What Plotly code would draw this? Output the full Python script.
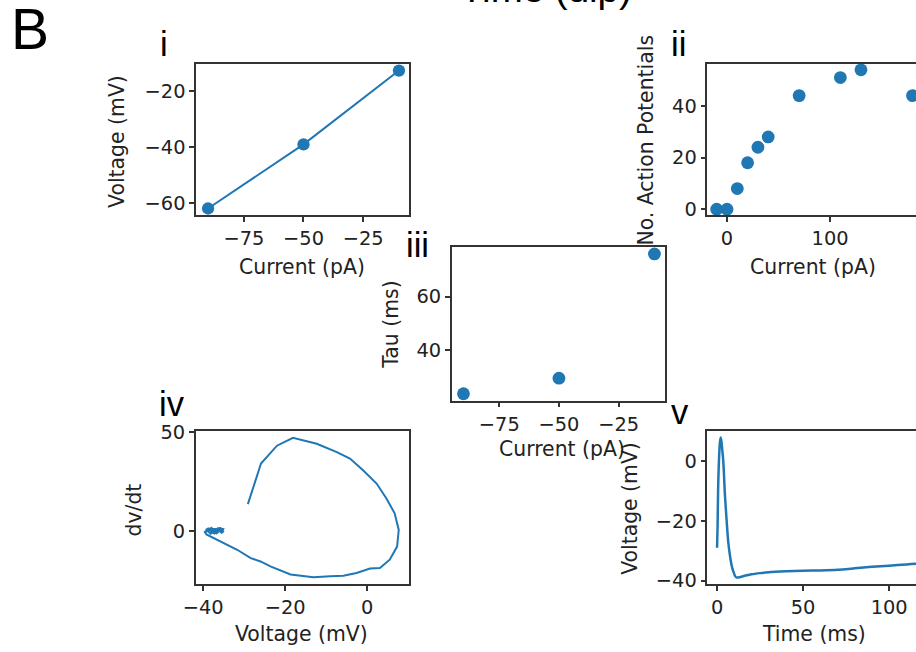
import plotly.graph_objects as go

# Layout helpers: the page keeps the browser's default 8px body margin and the
# captured picture is slightly scaled, so target pixel positions are converted.
W, H = 916, 652
OFF = 8
SX, SY = 0.991, 0.977
BLUE = "#1f77b4"
FONT = "DejaVu Sans"
LBLFONT = "Liberation Sans"
TICKSZ = 19.4
TITLESZ = 20.4

# Panel i: I-V relationship
iv_current = [-90, -50, -10]
iv_voltage = [-62, -39, -12.5]

# Panel ii: number of action potentials vs current
ap_current = [-10, 0, 10, 20, 30, 40, 70, 110, 130, 180]
ap_count = [0, 0, 8, 18, 24, 28, 44, 51, 54, 44]

# Panel iii: tau vs current
tau_current = [-90, -50, -10]
tau_ms = [23.8, 29.6, 75.9]

# Panel iv: phase plot (V, dV/dt)
phase_v = [-29.1, -25.9, -22.0, -18.1, -12.3, -7.4, -4.2, -1.0, 2.3, 4.7, 6.7, 7.7, 7.3, 5.5,
           3.1, 0.7, -2.6, -5.8, -9.0, -13.1, -18.7, -23.6, -26.0, -28.4, -31.7, -34.9, -38.1,
           -39.2, -39.6, -38.6, -37.5, -36.4, -35.6, -35.1, -36.0, -37.2, -38.5, -39.4, -38.0,
           -36.8, -35.5, -35.0, -36.2, -37.8, -39.0, -37.4, -35.8, -35.2, -36.6, -38.2, -39.3,
           -36.9, -35.3]
phase_dvdt = [13.5, 34.0, 43.0, 47.0, 44.0, 39.8, 36.5, 30.6, 23.9, 16.4, 8.9, 0.5, -7.9, -14.5,
              -18.7, -19.0, -21.2, -22.6, -22.9, -23.4, -22.0, -17.9, -15.4, -13.7, -9.5, -6.2, -2.9,
              -1.8, -0.5, 1.2, -1.0, 1.3, -0.8, 0.9, 1.4, -1.2, 1.0, -0.7, 1.5, -1.3, 0.8, -0.6, 1.1,
              0.2, 1.3, -1.1, 1.2, -0.9, 0.7, -1.4, 0.9, 1.0, -0.3]

# Panel v: voltage trace
trace_t = [0, 0.3, 0.6, 0.9, 1.2, 1.6, 2.1, 2.6, 3.0, 3.5, 4.0, 4.4, 5.0, 5.7, 6.5, 7.6, 8.5,
           9.5, 10.5, 11.5, 13, 16, 20, 25, 30, 40, 50, 60, 70, 80, 90, 100, 110, 116, 121]
trace_v = [-29, -22, -10, -3, 1.5, 6, 8, 6.5, 4, 1, -4, -9.5, -15, -21, -27, -32, -35,
           -37, -38.5, -39, -38.9, -38.4, -37.9, -37.5, -37.2, -36.9, -36.7, -36.6, -36.4,
           -35.9, -35.4, -35.0, -34.6, -34.3, -34.1]


def px_x(p):
    return (p / SX - OFF) / W


def px_y(p):
    return 1 - (p / SY - OFF) / H


fig = go.Figure()

fig.add_trace(go.Scatter(x=iv_current, y=iv_voltage, mode="lines+markers",
                         line=dict(color=BLUE, width=2), marker=dict(color=BLUE, size=12.3),
                         xaxis="x", yaxis="y"))
fig.add_trace(go.Scatter(x=ap_current, y=ap_count, mode="markers",
                         marker=dict(color=BLUE, size=12.8), xaxis="x2", yaxis="y2"))
fig.add_trace(go.Scatter(x=tau_current, y=tau_ms, mode="markers",
                         marker=dict(color=BLUE, size=12.8), xaxis="x3", yaxis="y3"))
fig.add_trace(go.Scatter(x=phase_v, y=phase_dvdt, mode="lines",
                         line=dict(color=BLUE, width=2), xaxis="x4", yaxis="y4"))
fig.add_trace(go.Scatter(x=trace_t, y=trace_v, mode="lines",
                         line=dict(color=BLUE, width=2.5, shape="spline", smoothing=0.6),
                         xaxis="x5", yaxis="y5"))


def axis(domain, rng, ticks, anchor, mirror=True):
    return dict(domain=domain, range=rng, tickmode="array", tickvals=ticks,
                showline=True, linecolor="#333333", linewidth=1.5, mirror=mirror,
                ticks="outside", ticklen=5, tickwidth=1.5, tickcolor="#333333",
                showgrid=False, zeroline=False, anchor=anchor,
                tickfont=dict(family=FONT, size=TICKSZ, color="#222222"))


panels = {
    # name: (x px range, y px range, xrange, yrange, xticks, yticks, right-mirror)
    "1": ((192, 406), (61, 213), [-95, -5.8], [-64.3, -10.1], [-75, -50, -25], [-60, -40, -20], True),
    "2": ((706, None), (61, 213), [-19, 183.4], [-2.2, 56.3], [0, 100], [0, 20, 40], False),
    "3": ((449, 663.3), (245, 400), [-94.9, -5.6], [21.2, 78.6], [-75, -50, -25], [40, 60], True),
    "4": ((191.7, 406), (430.7, 584.3), [-41.8, 10.2], [-26.7, 50.3], [-40, -20, 0], [0, 50], True),
    "5": ((706, None), (430.7, 584.3), [-5.6, 115.6], [-41.1, 10.1], [0, 50, 100], [-40, -20, 0], False),
}

layout_axes = {}
for k, (xp, yp, xr, yr, xt, yt, mir) in panels.items():
    xn = "xaxis" if k == "1" else "xaxis" + k
    yn = "yaxis" if k == "1" else "yaxis" + k
    xa = "x" if k == "1" else "x" + k
    ya = "y" if k == "1" else "y" + k
    xend = 1.0 if xp[1] is None else px_x(xp[1])
    layout_axes[xn] = axis([px_x(xp[0]), xend], xr, xt, ya, True)
    layout_axes[yn] = axis([px_y(yp[1]), px_y(yp[0])], yr, yt, xa, mir)

annotations = []


def text(s, x, y, size, family=FONT, angle=0, color="#222222"):
    annotations.append(dict(text=s, x=px_x(x), y=px_y(y), xref="paper", yref="paper",
                            xanchor="center", yanchor="middle", showarrow=False,
                            textangle=angle, font=dict(family=family, size=size, color=color)))


# axis titles
text("Current (pA)", 298.7, 265.7, TITLESZ)
text("Voltage (mV)", 113, 139, TITLESZ, angle=-90)
text("Current (pA)", 812.5, 265.7, TITLESZ)
text("No. Action Potentials", 644, 137.5, TITLESZ, angle=-90)
text("Current (pA)", 560, 449, TITLESZ)
text("Tau (ms)", 388, 323.5, TITLESZ, angle=-90)
text("Voltage (mV)", 298, 635, TITLESZ)
text("dv/dt", 130, 510, TITLESZ, angle=-90)
text("Time (ms)", 813, 635, TITLESZ)
text("Voltage (mV)", 628, 508, TITLESZ, angle=-90)

# panel labels
text("B", 25, 26, 57, LBLFONT, color="#000000")
text("i", 160, 41, 34.5, LBLFONT, color="#000000")
text("ii", 677, 41, 34.5, LBLFONT, color="#000000")
text("iii", 415, 243, 34.5, LBLFONT, color="#000000")
text("iv", 168, 403, 34.5, LBLFONT, color="#000000")
text("v", 678, 411, 34.5, LBLFONT, color="#000000")
text("Time (dip)", 544, -15, 38.5, LBLFONT, color="#000000")

fig.update_layout(width=W, height=H, margin=dict(l=0, r=0, t=0, b=0),
                  paper_bgcolor="white", plot_bgcolor="white", showlegend=False,
                  annotations=annotations, **layout_axes)

fig.write_html("out.html")
